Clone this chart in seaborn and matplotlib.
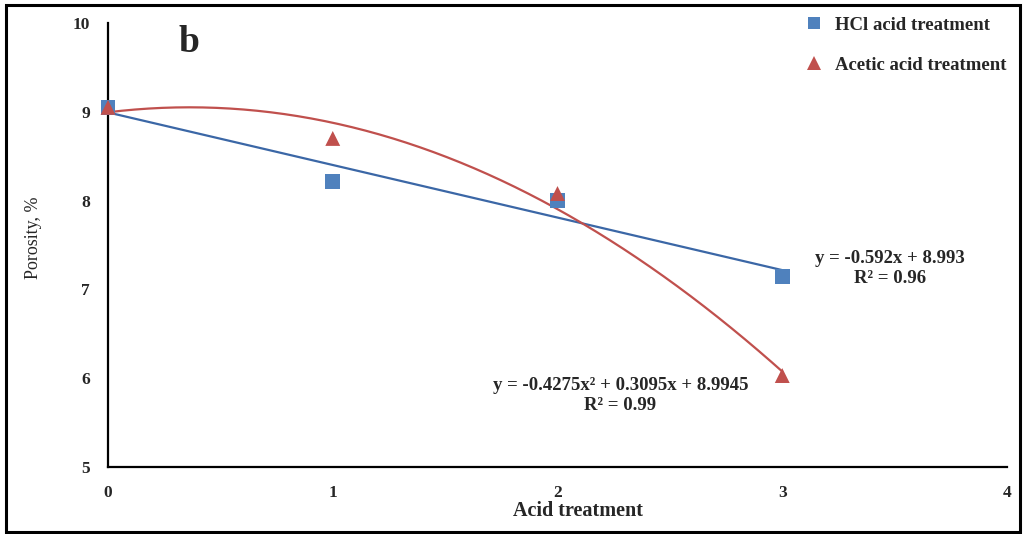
import numpy as np
import pandas as pd
import matplotlib
matplotlib.use("Agg")
import matplotlib.pyplot as plt
from matplotlib.lines import Line2D
from matplotlib.patches import Rectangle
import seaborn as sns

# Porosity measurements after each acid treatment step
treatment = [0, 1, 2, 3]
hcl_porosity = [9.05, 8.22, 8.00, 7.15]
acetic_porosity = [9.05, 8.70, 8.08, 6.03]

# Trendline coefficients (highest power first)
hcl_fit = [-0.592, 8.993]
hcl_r2 = 0.96
acetic_fit = [-0.4275, 0.3095, 8.9945]
acetic_r2 = 0.99

series_names = ["HCl acid treatment", "Acetic acid treatment"]
x_ticks = [0, 1, 2, 3, 4]
y_ticks = [5, 6, 7, 8, 9, 10]

BLUE = "#4F81BD"
BLUE_LINE = "#3B67A6"
RED = "#C0504D"

sns.set_theme(style="white")
plt.rcParams["font.family"] = ["Liberation Serif", "DejaVu Serif"]
plt.rcParams["font.weight"] = "bold"

fig = plt.figure(figsize=(10.25, 5.34), dpi=100)
ax = fig.add_axes([108 / 1025, 1 - 467 / 534, (1007 - 108) / 1025, (467 - 23) / 534])

df = pd.DataFrame({
    "x": treatment * 2,
    "y": hcl_porosity + acetic_porosity,
    "series": [series_names[0]] * 4 + [series_names[1]] * 4,
})

# Trendlines over the measured range
xs = np.linspace(0, 3, 200)
trend = pd.DataFrame({
    "x": np.concatenate([xs, xs]),
    "y": np.concatenate([np.polyval(hcl_fit, xs), np.polyval(acetic_fit, xs)]),
    "series": [series_names[0]] * len(xs) + [series_names[1]] * len(xs),
})
sns.lineplot(data=trend, x="x", y="y", hue="series",
             palette={series_names[0]: BLUE_LINE, series_names[1]: RED},
             linewidth=1.6, legend=False, ax=ax, zorder=2)

sns.scatterplot(data=df, x="x", y="y", hue="series", style="series",
                markers={series_names[0]: "s", series_names[1]: "^"},
                palette={series_names[0]: BLUE, series_names[1]: RED},
                s=115, linewidth=0, legend=False, ax=ax, zorder=3,
                clip_on=False)

ax.set_xlim(0, 4)
ax.set_ylim(5, 10)
ax.set_xticks(x_ticks)
ax.set_yticks(y_ticks)
ax.set_xticklabels([str(t) for t in x_ticks], fontsize=12.5, fontweight="bold")
ax.set_yticklabels([str(t) for t in y_ticks], fontsize=12.5, fontweight="bold")
ax.tick_params(axis="both", direction="in", length=4, width=1.5, color="black")
ax.tick_params(axis="x", pad=13)
ax.tick_params(axis="y", pad=13)

for side in ["top", "right"]:
    ax.spines[side].set_visible(False)
for side in ["left", "bottom"]:
    ax.spines[side].set_color("black")
    ax.spines[side].set_linewidth(1.6)

ax.set_xlabel("Acid treatment", fontsize=14.5, fontweight="bold")
ax.xaxis.set_label_coords((578 - 108) / 899, -(511 - 467) / 444)
ax.set_ylabel("Porosity, %", fontsize=13, fontweight="normal")
ax.yaxis.set_label_coords(-(108 - 33) / 899, (467 - 238) / 444)
ax.xaxis.label.set_va("center")
ax.yaxis.label.set_va("center")

ax.text(0.36, 9.78, "b", fontsize=27, fontweight="bold", ha="center", va="center")

# Trendline equations
eq_size = 13.5
ax.text(3.48, 7.35, f"y = {hcl_fit[0]}x + {hcl_fit[1]}", fontsize=eq_size,
        fontweight="bold", ha="center", va="center")
ax.text(3.48, 7.12, f"R² = {hcl_r2:.2f}", fontsize=eq_size,
        fontweight="bold", ha="center", va="center")
ax.text(2.28, 5.92,
        f"y = {acetic_fit[0]}x² + {acetic_fit[1]}x + {acetic_fit[2]}",
        fontsize=eq_size, fontweight="bold", ha="center", va="center")
ax.text(2.28, 5.69, f"R² = {acetic_r2:.2f}", fontsize=eq_size,
        fontweight="bold", ha="center", va="center")

handles = [
    Line2D([], [], linestyle="none", marker="s", markersize=9,
           markerfacecolor=BLUE, markeredgewidth=0),
    Line2D([], [], linestyle="none", marker="^", markersize=10,
           markerfacecolor=RED, markeredgewidth=0),
]
fig.legend(handles, series_names, loc="upper left",
           bbox_to_anchor=(786 / 1025, 1 - 0 / 534), frameon=False,
           prop={"family": "Liberation Serif", "weight": "bold", "size": 13.5},
           labelspacing=1.2, handletextpad=0.5, handlelength=1.2)

# Outer frame around the whole figure
fig.patches.append(Rectangle((6 / 1025, 2 / 534), 1014 / 1025, 527 / 534,
                             transform=fig.transFigure, fill=False,
                             edgecolor="black", linewidth=2.2))

fig.savefig("out.png", dpi=100)
